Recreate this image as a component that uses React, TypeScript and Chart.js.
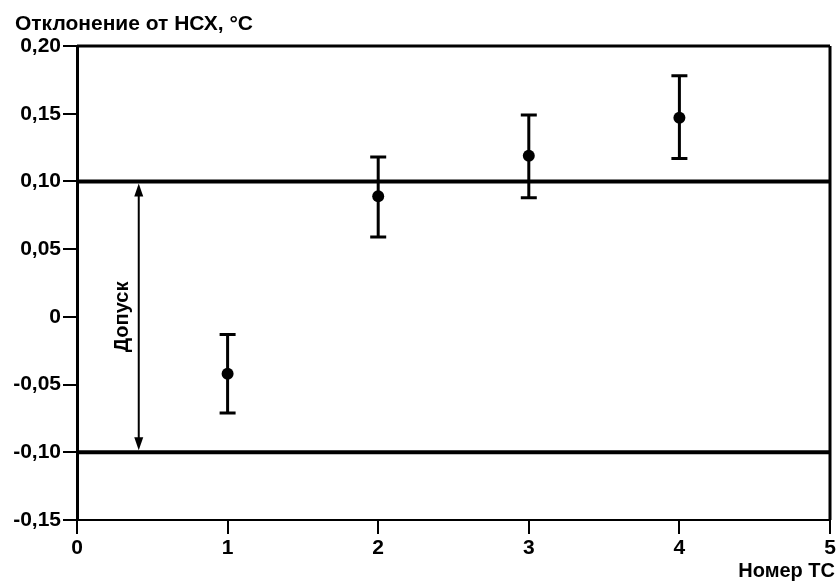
import { useEffect, useRef } from "react";
import { Chart, registerables } from "chart.js";

Chart.register(...registerables);

// ---- data ----
const sensorNumbers = [1, 2, 3, 4];
const deviation = [-0.042, 0.089, 0.119, 0.147];
const deviationLow = [-0.071, 0.059, 0.088, 0.117];
const deviationHigh = [-0.013, 0.118, 0.149, 0.178];
const toleranceUpper = 0.1;
const toleranceLower = -0.1;
const xTickValues = [0, 1, 2, 3, 4, 5];
const yTickValues = [-0.15, -0.1, -0.05, 0, 0.05, 0.1, 0.15, 0.2];
const yTitle = "Отклонение от НСХ, °С";
const xTitle = "Номер ТС";
const toleranceLabel = "Допуск";

const FAMILY = "'Liberation Sans', Arial, sans-serif";

const ARROW_X = 0.41;
const LABEL_X = 0.305;

const fmtY = (v: number) => {
  const r = Math.round(v * 100) / 100;
  if (r === 0) return "0";
  return r.toFixed(2).replace(".", ",");
};

const decorations = {
  id: "decorations",
  beforeDatasetsDraw(chart: any) {
    const { ctx, scales } = chart;
    const x = scales.x;
    const y = scales.y;
    ctx.save();
    ctx.strokeStyle = "#000";
    ctx.lineWidth = 3;
    ctx.lineCap = "butt";
    sensorNumbers.forEach((n, i) => {
      const px = x.getPixelForValue(n);
      const lo = y.getPixelForValue(deviationLow[i]);
      const hi = y.getPixelForValue(deviationHigh[i]);
      ctx.beginPath();
      ctx.moveTo(px, lo);
      ctx.lineTo(px, hi);
      ctx.moveTo(px - 8, lo);
      ctx.lineTo(px + 8, lo);
      ctx.moveTo(px - 8, hi);
      ctx.lineTo(px + 8, hi);
      ctx.stroke();
    });

    // tolerance arrow
    const ax = x.getPixelForValue(ARROW_X);
    const top = y.getPixelForValue(toleranceUpper) + 2;
    const bot = y.getPixelForValue(toleranceLower) - 2;
    const head = 13;
    const hw = 4.5;
    ctx.lineWidth = 2;
    ctx.beginPath();
    ctx.moveTo(ax, top + head - 2);
    ctx.lineTo(ax, bot - head + 2);
    ctx.stroke();
    ctx.fillStyle = "#000";
    ctx.beginPath();
    ctx.moveTo(ax, top);
    ctx.lineTo(ax - hw, top + head);
    ctx.lineTo(ax + hw, top + head);
    ctx.closePath();
    ctx.fill();
    ctx.beginPath();
    ctx.moveTo(ax, bot);
    ctx.lineTo(ax - hw, bot - head);
    ctx.lineTo(ax + hw, bot - head);
    ctx.closePath();
    ctx.fill();

    // tolerance label
    const lx = x.getPixelForValue(LABEL_X);
    const ly = y.getPixelForValue(0);
    ctx.translate(lx, ly);
    ctx.rotate(-Math.PI / 2);
    ctx.font = `bold 20px ${FAMILY}`;
    ctx.textAlign = "center";
    ctx.textBaseline = "middle";
    ctx.fillText(toleranceLabel, 0, 0);
    ctx.restore();
  },
  afterDraw(chart: any) {
    const { ctx, chartArea } = chart;
    ctx.save();
    ctx.strokeStyle = "#000";
    ctx.lineWidth = 3;
    ctx.beginPath();
    ctx.moveTo(chartArea.left, chartArea.top);
    ctx.lineTo(chartArea.right, chartArea.top);
    ctx.moveTo(chartArea.right, chartArea.top);
    ctx.lineTo(chartArea.right, chartArea.bottom);
    ctx.stroke();

    ctx.fillStyle = "#000";
    ctx.textBaseline = "alphabetic";
    ctx.textAlign = "left";
    ctx.font = `bold 21px ${FAMILY}`;
    ctx.fillText(yTitle, 15, 30);
    ctx.textAlign = "right";
    ctx.font = `bold 20px ${FAMILY}`;
    ctx.fillText(xTitle, chartArea.right + 5, 577);
    ctx.restore();
  },
};

export default function App() {
  const ref = useRef<HTMLCanvasElement | null>(null);

  useEffect(() => {
    if (!ref.current) return;
    const chart = new Chart(ref.current, {
      type: "scatter",
      data: {
        datasets: [
          {
            label: "upper",
            type: "line",
            data: [
              { x: xTickValues[0], y: toleranceUpper },
              { x: xTickValues[xTickValues.length - 1], y: toleranceUpper },
            ],
            borderColor: "#000",
            borderWidth: 4,
            pointRadius: 0,
          },
          {
            label: "lower",
            type: "line",
            data: [
              { x: xTickValues[0], y: toleranceLower },
              { x: xTickValues[xTickValues.length - 1], y: toleranceLower },
            ],
            borderColor: "#000",
            borderWidth: 4,
            pointRadius: 0,
          },
          {
            label: "deviation",
            data: sensorNumbers.map((n, i) => ({ x: n, y: deviation[i] })),
            backgroundColor: "#000",
            borderColor: "#000",
            pointRadius: 6,
            pointBorderWidth: 0,
          },
        ],
      },
      options: {
        responsive: false,
        animation: false,
        layout: { padding: { top: 46, right: 8, left: 0, bottom: 0 } },
        plugins: {
          legend: { display: false },
          tooltip: { enabled: false },
        },
        scales: {
          x: {
            type: "linear",
            min: xTickValues[0],
            max: xTickValues[xTickValues.length - 1],
            afterFit: (s: any) => {
              s.height = 62;
            },
            afterBuildTicks: (s: any) => {
              s.ticks = xTickValues.map((v) => ({ value: v }));
            },
            border: { color: "#000", width: 2 },
            grid: {
              drawOnChartArea: false,
              drawTicks: true,
              tickLength: 14,
              color: "#000",
              lineWidth: 2,
            },
            ticks: {
              color: "#000",
              font: { family: FAMILY, size: 21, weight: "bold" },
              padding: 2,
              maxRotation: 0,
              callback: (v: any) => String(v),
            },
          },
          y: {
            type: "linear",
            min: yTickValues[0],
            max: yTickValues[yTickValues.length - 1],
            afterFit: (s: any) => {
              s.width = 77;
            },
            afterBuildTicks: (s: any) => {
              s.ticks = yTickValues.map((v) => ({ value: v }));
            },
            border: { color: "#000", width: 3 },
            grid: {
              drawOnChartArea: false,
              drawTicks: true,
              tickLength: 14,
              color: "#000",
              lineWidth: 2,
            },
            ticks: {
              color: "#000",
              font: { family: FAMILY, size: 21, weight: "bold" },
              padding: 2,
              callback: (v: any) => fmtY(Number(v)),
            },
          },
        },
      },
      plugins: [decorations],
    });
    return () => chart.destroy();
  }, []);

  return (
    <div style={{ position: "absolute", left: 0, top: 0, width: 838, height: 582, background: "#fff" }}>
      <canvas ref={ref} width={838} height={582} style={{ display: "block" }} />
    </div>
  );
}
